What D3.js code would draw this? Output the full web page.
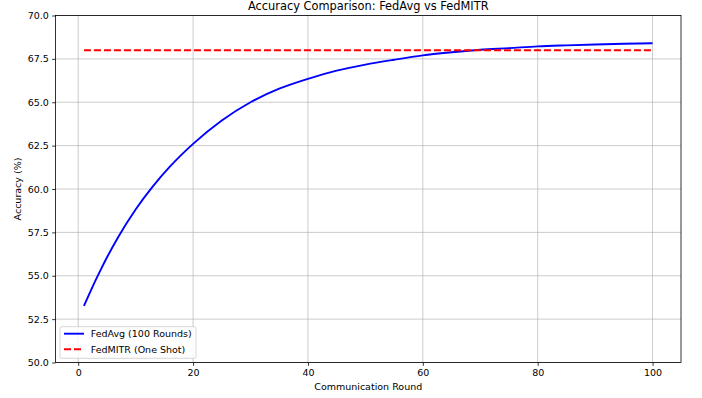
<!DOCTYPE html>
<html>
<head>
<meta charset="utf-8">
<script src="https://cdn.jsdelivr.net/npm/d3@7"></script>
<style>
  body { margin: 0; background: #fff; }
  text { font-family: "DejaVu Sans", sans-serif; fill: #000; }
</style>
</head>
<body>
<div id="chart"></div>
<script>
// values
const rounds = [1, 2, 3, 4, 5, 7, 10, 13, 16, 20, 25, 30, 35, 40, 45, 50, 55, 60, 65, 70, 75, 80, 85, 90, 95, 100];
const fedAvgAcc = [53.26, 54.0, 54.72, 55.4, 56.05, 57.25, 58.82, 60.15, 61.3, 62.6, 63.95, 65.0, 65.78, 66.35, 66.82, 67.17, 67.45, 67.7, 67.88, 68.03, 68.12, 68.22, 68.28, 68.33, 68.37, 68.4];
const fedMitrRounds = [1, 100];
const fedMitrAcc = [68.0, 68.0];
const xTicks = [0, 20, 40, 60, 80, 100];
const yTicks = [50.0, 52.5, 55.0, 57.5, 60.0, 62.5, 65.0, 67.5, 70.0];
const seriesNames = ["FedAvg (100 Rounds)", "FedMITR (One Shot)"];

const width = 702;
const height = 398;
const plotLeft = 55.5, plotRight = 681, plotTop = 15.5, plotBottom = 362.5;

var svg = d3.select('#chart').append('svg')
    .attr('width', width)
    .attr('height', height);

var xScale = d3.scaleLinear().domain([-3.95, 104.95]).range([plotLeft, plotRight]);
var yScale = d3.scaleLinear().domain([50, 70]).range([plotBottom, plotTop]);

// grid
var grid = svg.append('g');
grid.selectAll('line.gx')
    .data(xTicks).enter()
    .append('line')
    .attr('x1', d => xScale(d)).attr('x2', d => xScale(d))
    .attr('y1', plotTop).attr('y2', plotBottom)
    .style('stroke', '#b0b0b0').style('stroke-width', 0.8).style('opacity', 0.8);
grid.selectAll('line.gy')
    .data(yTicks).enter()
    .append('line')
    .attr('y1', d => yScale(d)).attr('y2', d => yScale(d))
    .attr('x1', plotLeft).attr('x2', plotRight)
    .style('stroke', '#b0b0b0').style('stroke-width', 0.8).style('opacity', 0.8);

// lines
var avgData = rounds.map((r, i) => ({ x: r, y: fedAvgAcc[i] }));
var mitrData = fedMitrRounds.map((r, i) => ({ x: r, y: fedMitrAcc[i] }));

var line = d3.line()
    .x(d => xScale(d.x))
    .y(d => yScale(d.y))
    .curve(d3.curveMonotoneX);

svg.append('path')
    .attr('d', line(avgData))
    .style('fill', 'none')
    .style('stroke', '#0000ff')
    .style('stroke-width', 1.9);

svg.append('path')
    .attr('d', line(mitrData))
    .style('fill', 'none')
    .style('stroke', '#ff0000')
    .style('stroke-width', 1.9)
    .style('stroke-dasharray', '7,3');

// axes
var xAxis = d3.axisBottom(xScale).tickValues(xTicks).tickSize(3.3).tickPadding(3.3).tickFormat(d3.format('d'));
var yAxis = d3.axisLeft(yScale).tickValues(yTicks).tickSize(3.3).tickPadding(3.3).tickFormat(d3.format('.1f'));

var gx = svg.append('g')
    .attr('transform', `translate(0,${plotBottom})`)
    .call(xAxis);
var gy = svg.append('g')
    .attr('transform', `translate(${plotLeft},0)`)
    .call(yAxis);

[gx, gy].forEach(g => {
    g.select('.domain').remove();
    g.selectAll('line').style('stroke', '#000').style('stroke-width', 0.8);
    g.selectAll('text')
        .style('font-family', '"DejaVu Sans", sans-serif')
        .style('font-size', '9.5px')
        .style('fill', '#000');
});

// frame
svg.append('rect')
    .attr('x', plotLeft).attr('y', plotTop)
    .attr('width', plotRight - plotLeft).attr('height', plotBottom - plotTop)
    .style('fill', 'none')
    .style('stroke', '#000')
    .style('stroke-width', 0.8);

// titles
svg.append('text')
    .attr('x', (plotLeft + plotRight) / 2)
    .attr('y', 9.8)
    .style('text-anchor', 'middle')
    .style('font-size', '11.4px')
    .text('Accuracy Comparison: FedAvg vs FedMITR');

svg.append('text')
    .attr('x', (plotLeft + plotRight) / 2)
    .attr('y', 389.7)
    .style('text-anchor', 'middle')
    .style('font-size', '9.5px')
    .text('Communication Round');

svg.append('text')
    .attr('transform', `translate(21.4,${(plotTop + plotBottom) / 2}) rotate(-90)`)
    .style('text-anchor', 'middle')
    .style('font-size', '9.5px')
    .text('Accuracy (%)');

// legend
var legend = svg.append('g');
legend.append('rect')
    .attr('x', 60).attr('y', 326.7)
    .attr('width', 136).attr('height', 31.6)
    .attr('rx', 2)
    .style('fill', '#fff').style('fill-opacity', 0.8)
    .style('stroke', '#cccccc').style('stroke-width', 0.8);

var legendColors = ['#0000ff', '#ff0000'];
var legendDash = ['none', '7,3'];
var legendY = [333.7, 349.3];

legend.selectAll('line.item')
    .data(seriesNames).enter()
    .append('line')
    .attr('x1', 64).attr('x2', 84)
    .attr('y1', (d, i) => legendY[i]).attr('y2', (d, i) => legendY[i])
    .style('stroke', (d, i) => legendColors[i])
    .style('stroke-width', 1.9)
    .style('stroke-dasharray', (d, i) => legendDash[i]);

legend.selectAll('text.item')
    .data(seriesNames).enter()
    .append('text')
    .attr('x', 90.7)
    .attr('y', (d, i) => legendY[i] + 3.4)
    .style('font-size', '9.5px')
    .text(d => d);
</script>
</body>
</html>
